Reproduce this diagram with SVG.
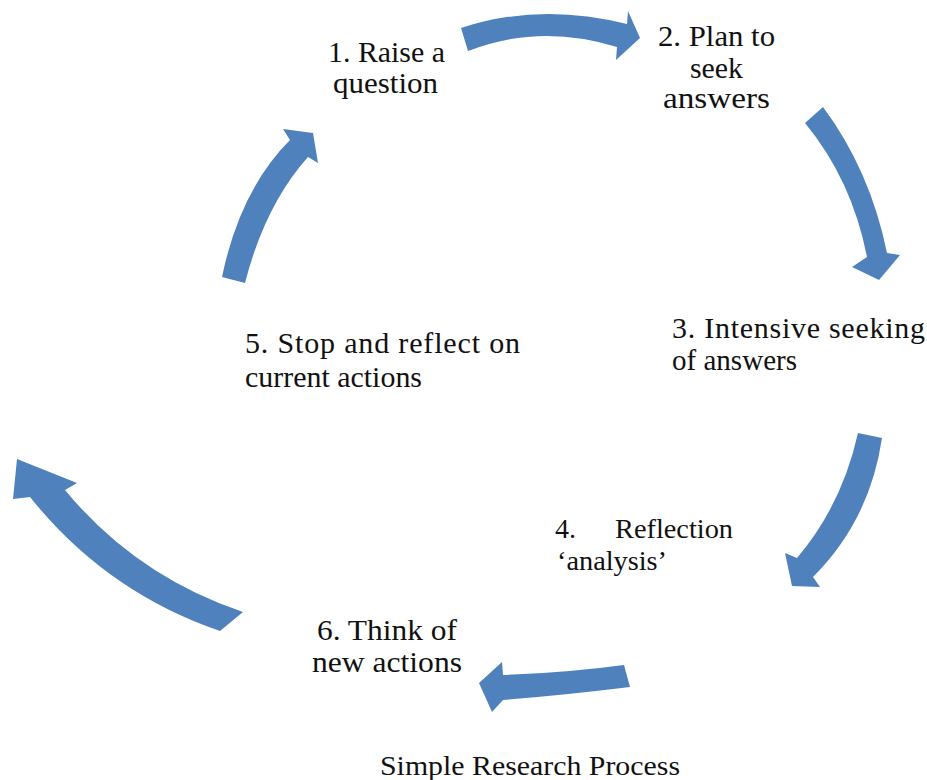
<svg xmlns="http://www.w3.org/2000/svg" width="927" height="780" viewBox="0 0 927 780">
<style>
.arr{fill:#4F81BD;stroke:none}
.t{font-family:"Liberation Serif","Times New Roman",serif;font-size:30px;fill:#111}
.s{font-size:28px}
</style>
<rect width="927" height="780" fill="#fff"/>
<g id="connectors">
<path class="arr" d="M461,28 Q540,2 627,24 L628,11 L640,38 L616,60 L617,47 Q540,23 468,51 Z"/>
<path class="arr" d="M823,107 Q870,170 887,253 L900,255 L879,280 L852,267 L867,257 Q852,180 805,123 Z"/>
<path class="arr" d="M858,433 L882,438 Q870,520 813,577 L820,587 L792,586 L785,553 L797,558 Q842,505 858,433 Z"/>
<path class="arr" d="M624,665 Q565,673 503,675 L502,662 L479,683 L492,712 L503,700 Q565,695 630,687 Z"/>
<path class="arr" d="M243,612 Q136,576 65,490 L77,483 L17,459 L13,499 L30,497 Q106,592 220,631 Z"/>
<path class="arr" d="M222,277 Q240,190 290,140 L283,129 L313,133 L318,163 L308,157 Q265,205 245,283 Z"/>
</g>
<g id="n1">
<text class="t" x="328" y="62" textLength="117" lengthAdjust="spacingAndGlyphs">1. Raise a</text>
<text class="t" x="333" y="93" textLength="105" lengthAdjust="spacingAndGlyphs">question</text>
</g>
<g id="n2">
<text class="t" x="658" y="46" textLength="117" lengthAdjust="spacingAndGlyphs">2. Plan to</text>
<text class="t" x="690" y="78" textLength="53" lengthAdjust="spacingAndGlyphs">seek</text>
<text class="t" x="663" y="108" textLength="107" lengthAdjust="spacingAndGlyphs">answers</text>
</g>
<g id="n3">
<text class="t" x="672" y="338" textLength="253" lengthAdjust="spacing">3.  Intensive  seeking</text>
<text class="t" x="672" y="370" textLength="125" lengthAdjust="spacingAndGlyphs">of answers</text>
</g>
<g id="n4">
<text class="t s" x="555" y="538">4.</text>
<text class="t s" x="615" y="538" textLength="118" lengthAdjust="spacingAndGlyphs">Reflection</text>
<text class="t s" x="557" y="570" textLength="110" lengthAdjust="spacingAndGlyphs">‘analysis’</text>
</g>
<g id="n5">
<text class="t" x="245" y="353" textLength="275" lengthAdjust="spacing">5. Stop and reflect on</text>
<text class="t" x="245" y="387" textLength="177" lengthAdjust="spacingAndGlyphs">current actions</text>
</g>
<g id="n6">
<text class="t" x="317" y="640" textLength="140" lengthAdjust="spacingAndGlyphs">6. Think of</text>
<text class="t" x="312" y="672" textLength="150" lengthAdjust="spacingAndGlyphs">new actions</text>
</g>
<g id="caption">
<text class="t s" x="380" y="775" textLength="300" lengthAdjust="spacingAndGlyphs">Simple Research Process</text>
</g>
</svg>
